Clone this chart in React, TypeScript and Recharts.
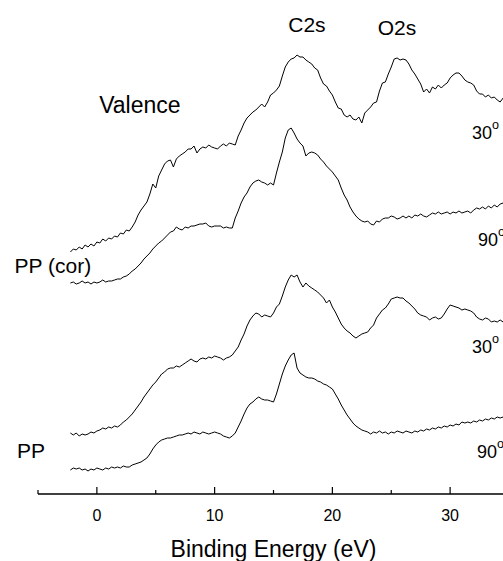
import React from 'react';
import { LineChart, Line, XAxis, YAxis, ReferenceDot } from 'recharts';

const energy = [
  -2.25, -2, -1.75, -1.5, -1.25, -1, -0.75, -0.5, -0.25, 0,
  0.25, 0.5, 0.75, 1, 1.25, 1.5, 1.75, 2, 2.25, 2.5,
  2.75, 3, 3.25, 3.5, 3.75, 4, 4.25, 4.5, 4.75, 5,
  5.25, 5.5, 5.75, 6, 6.25, 6.5, 6.75, 7, 7.25, 7.5,
  7.75, 8, 8.25, 8.5, 8.75, 9, 9.25, 9.5, 9.75, 10,
  10.25, 10.5, 10.75, 11, 11.25, 11.5, 11.75, 12, 12.25, 12.5,
  12.75, 13, 13.25, 13.5, 13.75, 14, 14.25, 14.5, 14.75, 15,
  15.25, 15.5, 15.75, 16, 16.25, 16.5, 16.75, 17, 17.25, 17.5,
  17.75, 18, 18.25, 18.5, 18.75, 19, 19.25, 19.5, 19.75, 20,
  20.25, 20.5, 20.75, 21, 21.25, 21.5, 21.75, 22, 22.25, 22.5,
  22.75, 23, 23.25, 23.5, 23.75, 24, 24.25, 24.5, 24.75, 25,
  25.25, 25.5, 25.75, 26, 26.25, 26.5, 26.75, 27, 27.25, 27.5,
  27.75, 28, 28.25, 28.5, 28.75, 29, 29.25, 29.5, 29.75, 30,
  30.25, 30.5, 30.75, 31, 31.25, 31.5, 31.75, 32, 32.25, 32.5,
  32.75, 33, 33.25, 33.5, 33.75, 34, 34.25, 34.5, 34.75,
];

// PP (cor), 30°
const ppCor30 = [
  242, 245, 244, 247, 245, 249, 247, 250, 248, 252,
  251, 255, 253, 256, 255, 258, 257, 261, 260, 264,
  263, 267, 272, 279, 284, 288, 292, 300, 310, 306,
  318, 324, 330, 333, 334, 327, 335, 338, 340, 342,
  345, 345, 348, 341, 345, 347, 346, 349, 347, 346,
  345, 348, 350, 348, 351, 350, 349, 358, 364, 371,
  376, 379, 382, 384, 387, 390, 387, 392, 399, 401,
  404, 408, 418, 427, 432, 435, 436, 439, 437, 437,
  434, 432, 430, 426, 424, 416, 410, 408, 403, 399,
  392, 386, 385, 379, 377, 379, 375, 374, 377, 371,
  381, 384, 387, 391, 392, 403, 411, 412, 420, 427,
  435, 436, 434, 435, 434, 430, 424, 420, 415, 410,
  402, 405, 401, 407, 405, 409, 406, 409, 411, 416,
  419, 421, 421, 418, 414, 412, 411, 409, 403, 400,
  400, 397, 399, 396, 397, 394, 392, 396, 394,
];

// PP (cor), 90°
const ppCor90 = [
  211, 212, 210, 211, 213, 211, 212, 210, 212, 211,
  212, 214, 212, 213, 213, 214, 215, 215, 217, 218,
  220, 223, 225, 228, 231, 235, 238, 241, 245, 248,
  251, 253, 256, 259, 262, 263, 267, 265, 264, 267,
  266, 268, 268, 269, 270, 270, 271, 268, 267, 268,
  268, 268, 266, 267, 266, 266, 276, 283, 291, 297,
  301, 307, 311, 313, 314, 312, 311, 309, 311, 309,
  321, 332, 342, 356, 364, 366, 361, 355, 351, 348,
  338, 341, 342, 341, 339, 335, 332, 328, 325, 322,
  318, 314, 306, 299, 294, 287, 282, 278, 275, 273,
  272, 273, 270, 269, 273, 272, 275, 276, 276, 278,
  277, 275, 276, 278, 276, 278, 276, 279, 278, 280,
  278, 277, 279, 281, 280, 282, 280, 281, 282, 280,
  282, 281, 283, 281, 282, 283, 281, 284, 286, 285,
  287, 285, 288, 286, 289, 287, 290, 291, 292,
];

// PP, 30°
const pp30 = [
  61, 59, 61, 58, 60, 59, 60, 62, 61, 63,
  64, 66, 65, 67, 66, 68, 67, 69, 72, 74,
  77, 80, 84, 88, 92, 97, 101, 105, 109, 112,
  116, 120, 122, 125, 126, 126, 128, 127, 129, 131,
  133, 135, 133, 132, 135, 136, 135, 137, 136, 138,
  137, 136, 134, 136, 137, 139, 143, 147, 154, 160,
  168, 174, 178, 181, 180, 177, 179, 178, 177, 181,
  187, 190, 198, 207, 214, 219, 217, 219, 212, 207,
  211, 208, 206, 204, 202, 199, 196, 191, 194, 187,
  182, 176, 170, 166, 163, 161, 158, 156, 158, 160,
  161, 162, 166, 169, 176, 180, 184, 186, 190, 195,
  196, 197, 196, 196, 193, 191, 188, 185, 181, 179,
  178, 177, 174, 176, 177, 175, 176, 180, 185, 189,
  188, 187, 186, 184, 185, 184, 183, 181, 177, 175,
  174, 176, 175, 172, 173, 172, 174, 172, 173,
];

// PP, 90°
const pp90 = [
  24, 26, 25, 26, 24, 25, 23, 25, 24, 26,
  25, 24, 26, 25, 27, 26, 27, 26, 28, 27,
  27, 29, 30, 31, 32, 34, 36, 40, 45, 49,
  52, 54, 55, 56, 56, 57, 58, 59, 59, 60,
  61, 60, 62, 61, 60, 62, 61, 60, 61, 62,
  61, 60, 58, 57, 56, 58, 61, 67, 73, 80,
  86, 90, 92, 95, 97, 95, 94, 94, 93, 92,
  100, 110, 120, 128, 134, 139, 141, 126, 121, 119,
  117, 116, 116, 115, 113, 112, 110, 109, 107, 105,
  100, 95, 89, 84, 79, 75, 71, 68, 66, 64,
  63, 62, 60, 62, 61, 63, 61, 62, 60, 62,
  61, 63, 62, 61, 63, 62, 61, 63, 62, 64,
  63, 65, 64, 66, 65, 67, 66, 68, 67, 69,
  68, 70, 69, 72, 71, 72, 71, 73, 72, 74,
  73, 75, 74, 76, 75, 77, 76, 77, 77,
];

const xTicks = [-5, 0, 5, 10, 15, 20, 25, 30, 35];

const data = energy.map((E, i) => ({
  E,
  a: ppCor30[i],
  b: ppCor90[i],
  c: pp30[i],
  d: pp90[i],
}));

const FONT = '"Liberation Sans", Arial, Helvetica, sans-serif';

const AxisTick = (props: any) => {
  const { x, y, payload } = props;
  const major = payload.value % 10 === 0;
  return (
    <g>
      <line x1={x} y1={y} x2={x} y2={y - (major ? 7 : 4)} stroke="#000" strokeWidth={1.2} />
      {major && (
        <text x={x} y={y + 27} textAnchor="middle" fontSize={16} fontFamily={FONT} fill="#000">
          {payload.value}
        </text>
      )}
    </g>
  );
};

const makeLabel = (text: string, size: number, anchor: string, sup?: string) => (props: any) => {
  const vb = props.viewBox || {};
  const x = (vb.x || 0) + (vb.width || 0) / 2;
  const y = (vb.y || 0) + (vb.height || 0) / 2;
  return (
    <text
      x={x}
      y={y}
      textAnchor={anchor as any}
      dominantBaseline="central"
      fontSize={size}
      fontFamily={FONT}
      fill="#000"
    >
      {text}
      {sup && (
        <tspan fontSize={size * 0.7} dy={-8}>
          {sup}
        </tspan>
      )}
    </text>
  );
};

const AxisTitle = (props: any) => {
  const vb = props.viewBox || {};
  return (
    <text
      x={vb.x + vb.width / 2}
      y={vb.y + 63}
      textAnchor="middle"
      fontSize={23}
      fontFamily={FONT}
      fill="#000"
    >
      Binding Energy (eV)
    </text>
  );
};

const labels = [
  { E: 17.84, v: 470, text: 'C2s', size: 21, anchor: 'middle' },
  { E: 25.49, v: 467, text: 'O2s', size: 21, anchor: 'middle' },
  { E: 3.65, v: 389, text: 'Valence', size: 23, anchor: 'middle' },
  { E: -3.74, v: 229, text: 'PP (cor)', size: 21, anchor: 'middle' },
  { E: -5.6, v: 44, text: 'PP', size: 21, anchor: 'middle' },
  { E: 31.86, v: 361, text: '30', size: 18, anchor: 'start', sup: 'o' },
  { E: 32.37, v: 254, text: '90', size: 18, anchor: 'start', sup: 'o' },
  { E: 31.86, v: 147, text: '30', size: 18, anchor: 'start', sup: 'o' },
  { E: 32.29, v: 42, text: '90', size: 18, anchor: 'start', sup: 'o' },
];

export default function App() {
  return (
    <div
      style={{
        position: 'absolute',
        left: 0,
        top: 0,
        width: 503,
        height: 561,
        overflow: 'hidden',
        background: '#fff',
      }}
    >
      <LineChart
        width={509}
        height={561}
        data={data}
        margin={{ top: 0, right: 0, left: 38, bottom: 0 }}
      >
        <XAxis
          type="number"
          dataKey="E"
          domain={[-5, 35]}
          ticks={xTicks}
          interval={0}
          height={67}
          tickSize={0}
          tickMargin={0}
          tickLine={false}
          axisLine={{ stroke: '#000', strokeWidth: 1.3 }}
          tick={<AxisTick />}
          label={<AxisTitle />}
          allowDataOverflow
        />
        <YAxis type="number" domain={[0, 494]} hide allowDataOverflow />
        <Line type="linear" dataKey="a" stroke="#000" strokeWidth={1} dot={false} isAnimationActive={false} />
        <Line type="linear" dataKey="b" stroke="#000" strokeWidth={1} dot={false} isAnimationActive={false} />
        <Line type="linear" dataKey="c" stroke="#000" strokeWidth={1} dot={false} isAnimationActive={false} />
        <Line type="linear" dataKey="d" stroke="#000" strokeWidth={1} dot={false} isAnimationActive={false} />
        {labels.map((l, i) => (
          <ReferenceDot
            key={i}
            x={l.E}
            y={l.v}
            r={0}
            fill="none"
            stroke="none"
            ifOverflow="visible"
            label={makeLabel(l.text, l.size, l.anchor, l.sup)}
          />
        ))}
      </LineChart>
    </div>
  );
}
